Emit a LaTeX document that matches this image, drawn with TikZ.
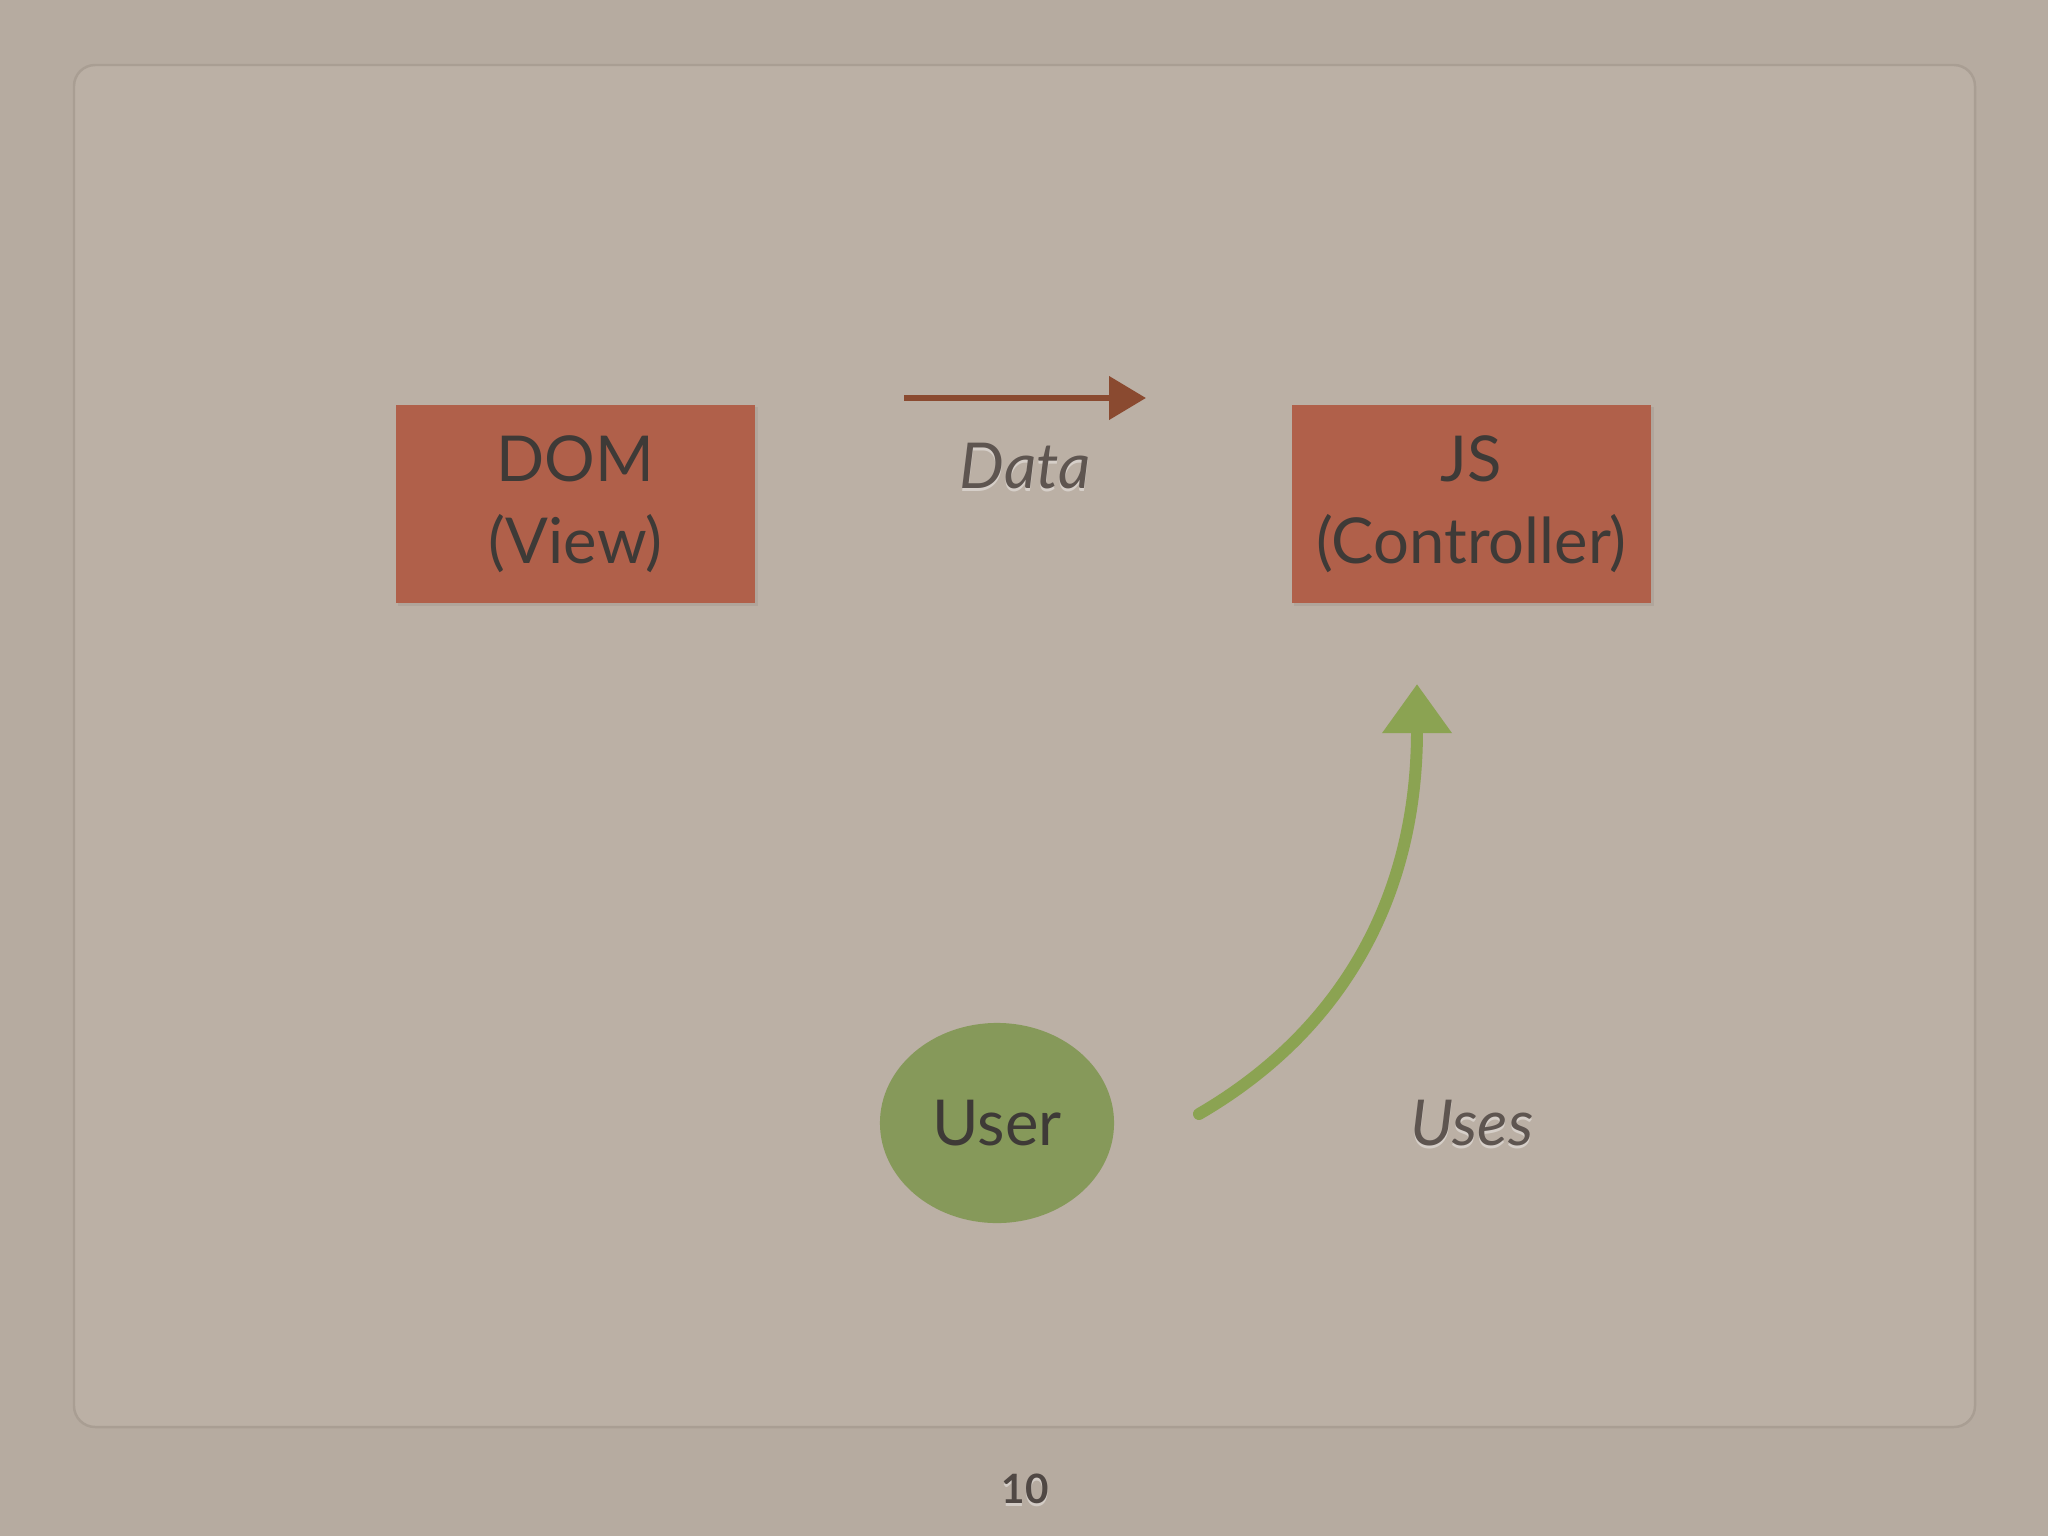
\documentclass[tikz,border=0pt]{standalone}
\usepackage{fontspec}
\setmainfont{Lato}
\usetikzlibrary{arrows.meta,shapes.geometric}
\definecolor{bgout}{HTML}{B6ABA0}
\definecolor{bgin}{HTML}{BBB0A5}
\definecolor{frameline}{HTML}{A99E93}
\definecolor{boxfill}{HTML}{B0604A}
\definecolor{txtdark}{HTML}{3E3A37}
\definecolor{txtlabel}{HTML}{5E5550}
\definecolor{userfill}{HTML}{86995A}
\definecolor{greenarrow}{HTML}{8BA352}
\definecolor{brownarrow}{HTML}{8A4A30}
\tikzset{
  boxnode/.style={fill=boxfill, minimum width=3.59cm, minimum height=1.98cm, inner sep=0pt,
    align=center, text=txtdark, font=\fontsize{18}{23.3}\selectfont},
  labeltext/.style={text=txtlabel, font=\fontsize{18}{23}\selectfont\itshape},
  shadowtext/.style={text=white, opacity=0.4, font=\fontsize{18}{23}\selectfont\itshape},
}
\begin{document}
\begin{tikzpicture}[x=0.01cm,y=-0.01cm]
\useasboundingbox (0,0) rectangle (2048,1536);
\fill[bgout] (0,0) rectangle (2048,1536);
\draw[frameline, fill=bgin, line width=0.7pt, rounded corners=6] (74,65) rectangle (1975,1427);
% boxes
\fill[black, opacity=0.06] (398,407) rectangle (758,606);
\fill[black, opacity=0.06] (1294,407) rectangle (1654,606);
\node[boxnode] (dom) at (575.5,504) {DOM\\(View)};
\node[boxnode] (js) at (1471.5,504) {JS\\(Controller)};
% user
\node[ellipse, fill=userfill, minimum width=2.34cm, minimum height=2.0cm, inner sep=0pt,
  text=txtdark, font=\fontsize{18}{23}\selectfont] (user) at (997,1123) {User};
% labels
\node[shadowtext] at (1025,469) {Data};
\node[labeltext] (data) at (1025,466) {Data};
\node[shadowtext] at (1472,1126) {Uses};
\node[labeltext] (uses) at (1472,1123) {Uses};
% arrows
\coordinate (da) at (904,398);
\coordinate (db) at (1146,398);
\draw[brownarrow, line width=1.9pt, -{Triangle[length=10.5pt,width=12pt]}] (da) -- (db);
\coordinate (ua) at (1199,1114);
\coordinate (ub) at (1417,684);
\draw[greenarrow, line width=3.4pt, line cap=round, -{Triangle[length=14pt,width=19pt]}]
  (ua) .. controls (1335,1035) and (1417,905) .. (ub);
% page number
\node[text=white, opacity=0.4, font=\fontsize{11.5}{14}\selectfont\bfseries] at (1025,1492) {10};
\node[text=txtlabel!85!black, font=\fontsize{11.5}{14}\selectfont\bfseries] (pnum) at (1025,1489) {10};
\end{tikzpicture}
\end{document}
